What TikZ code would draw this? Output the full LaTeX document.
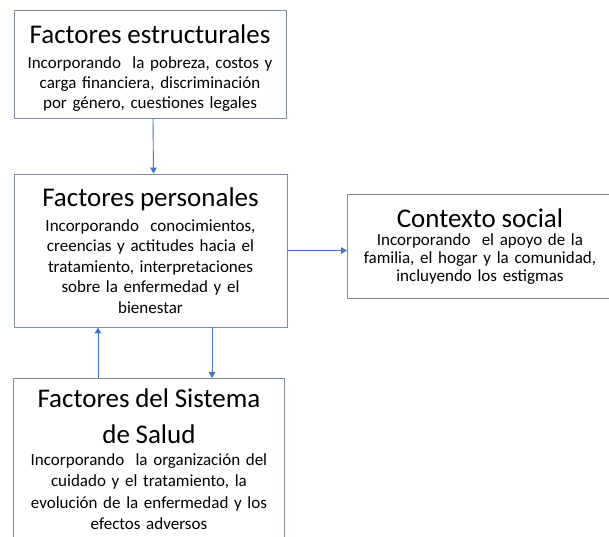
\documentclass[tikz,border=0pt]{standalone}
\usepackage{fontspec}
\setmainfont{Carlito}
\usetikzlibrary{arrows.meta}
\definecolor{borde}{RGB}{128,142,158}
\definecolor{flecha}{RGB}{68,114,196}
\newcommand\titulo[2][4pt]{{\fontsize{27}{36}\selectfont #2\par}\vspace{#1}}
\begin{document}
\begin{tikzpicture}[x=1pt,y=-1pt,
    caja/.style={draw=borde,line width=0.9pt,rectangle,inner sep=0pt,
      align=center,font=\fontsize{17}{20.5}\selectfont},
    flec/.style={draw=flecha,line width=0.9pt,-{Triangle[length=6pt,width=6.5pt]}}]
  \clip (0,0) rectangle (609,536);

  \node[caja,minimum width=272pt,minimum height=108pt,text width=270pt,
        font=\fontsize{17}{20}\selectfont] (estruct) at (150,64)
    {\titulo[5.5pt]{\rule{0pt}{27pt}Factores estructurales}Incorporando~ la pobreza, costos y\\
     carga financiera, discriminación\\ por género, cuestiones legales};
  \node[caja,minimum width=273pt,minimum height=153pt,text width=271pt] (personal) at (150.5,250.5)
    {\titulo{Factores personales}Incorporando~ conocimientos,\\
     creencias y actitudes hacia el\\ tratamiento, interpretaciones\\
     sobre la enfermedad y el\\ bienestar};
  \node[caja,anchor=north west,minimum width=265pt,minimum height=104pt,text width=263pt,
        font=\fontsize{17}{18}\selectfont] (social) at (347,194)
    {\titulo[0.5pt]{Contexto social}Incorporando~ el apoyo de la\\
     familia, el hogar y la comunidad,\\ incluyendo los estigmas};
  \node[caja,anchor=north west,minimum width=271pt,minimum height=162pt,text width=269pt,
        font=\fontsize{17}{21.5}\selectfont] (salud) at (13,378)
    {\titulo[0pt]{Factores del Sistema\\ de Salud}Incorporando~ la organización del\\
     cuidado y el tratamiento, la\\ evolución de la enfermedad y los\\ efectos adversos};

  \draw[flec] ([xshift=3pt]estruct.south) -- ([xshift=3pt]personal.north);
  \draw[flec] (personal.east) -- (personal.east -| social.west);
  \draw[flec] ([xshift=61.5pt]personal.south) -- ([xshift=61.5pt]personal.south |- salud.north);
  \draw[flec] ([xshift=-52.5pt]personal.south |- salud.north) -- ([xshift=-52.5pt]personal.south);
\end{tikzpicture}
\end{document}
